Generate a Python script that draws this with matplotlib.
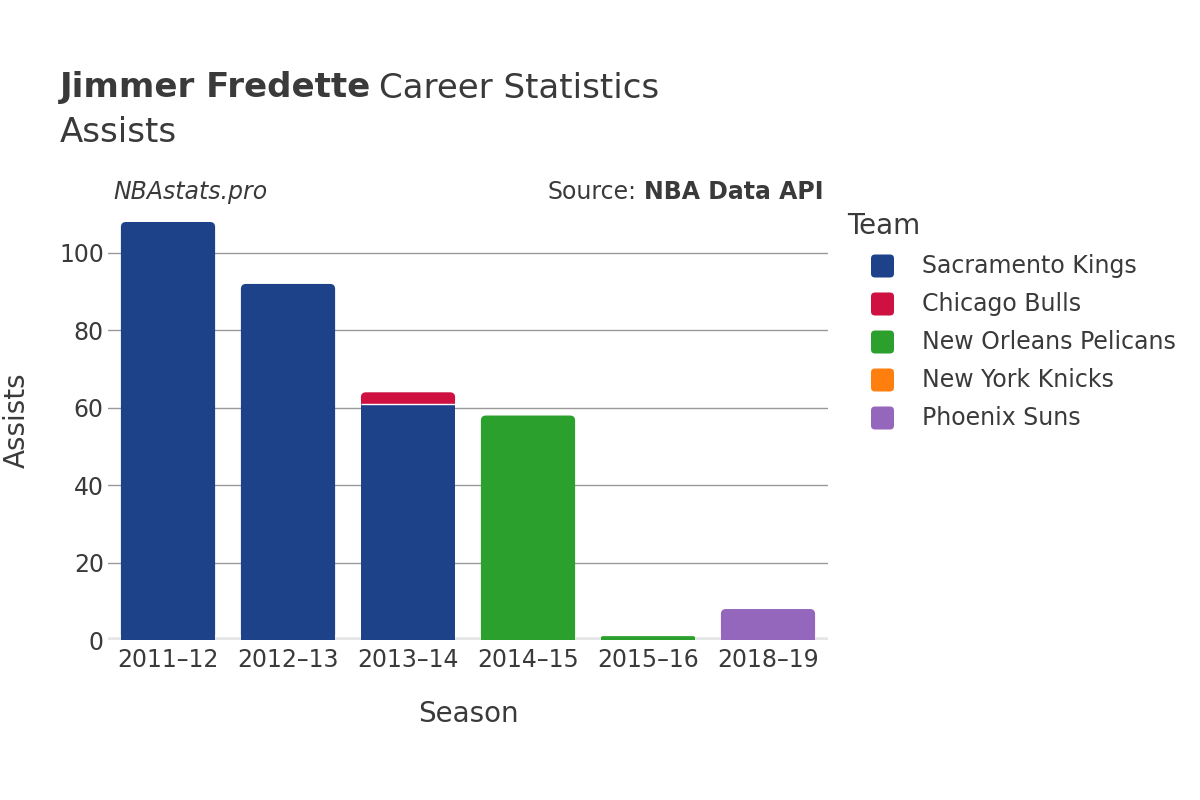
import matplotlib
matplotlib.use("Agg")
import matplotlib.pyplot as plt
from matplotlib.patches import FancyBboxPatch, Rectangle
import numpy as np

seasons = ["2011–12", "2012–13", "2013–14", "2014–15", "2015–16", "2018–19"]
teams = ["Sacramento Kings", "Chicago Bulls", "New Orleans Pelicans", "New York Knicks", "Phoenix Suns"]
colors = ["#1d428a", "#ce1141", "#2ca02c", "#ff7f0e", "#9467bd"]
values = {
    "Sacramento Kings":     [108, 92, 61, 0, 0, 0],
    "Chicago Bulls":        [0, 0, 3, 0, 0, 0],
    "New Orleans Pelicans": [0, 0, 0, 58, 1, 0],
    "New York Knicks":      [0, 0, 0, 0, 0, 0],
    "Phoenix Suns":         [0, 0, 0, 0, 0, 8],
}
yticks = [0, 20, 40, 60, 80, 100]

plt.rcParams['font.family'] = ['DejaVu Sans']
txt = "#3a3a3a"
W, H = 1200, 800
fig = plt.figure(figsize=(12, 8), dpi=100)
ax_l, ax_r, ax_b, ax_t = 108, 828, 640, 210
ax = fig.add_axes([ax_l/W, 1-ax_b/H, (ax_r-ax_l)/W, (ax_b-ax_t)/H])
ymax = 111.1
ax.set_xlim(-0.5, len(seasons)-0.5)
ax.set_ylim(0, ymax)

x = np.arange(len(seasons))
width = 0.785
px_x = (ax_r-ax_l)/len(seasons)      # pixels per x unit
px_y = (ax_b-ax_t)/ymax              # pixels per y unit
rpx = 5.0
totals = [sum(values[t][i] for t in teams) for i in range(len(seasons))]
bottom = np.zeros(len(seasons))
for team, col in zip(teams, colors):
    v = np.array(values[team], dtype=float)
    for i in range(len(seasons)):
        if v[i] <= 0:
            continue
        top = bottom[i] + v[i]
        is_top = abs(top - totals[i]) < 1e-9
        x0 = x[i] - width/2
        if is_top:
            hpx = v[i]*px_y
            r = min(rpx, hpx/2)
            rx = r/px_x
            ry = r/px_y
            if r > 0.8:
                p = FancyBboxPatch((x0, bottom[i]), width, v[i],
                                   boxstyle=f"round,pad=0,rounding_size={rx}",
                                   mutation_aspect=ry/rx if rx > 0 else 1,
                                   facecolor=col, edgecolor="none", zorder=3)
                ax.add_patch(p)
                ax.add_patch(Rectangle((x0, bottom[i]), width, v[i]-ry,
                                       facecolor=col, edgecolor="none", zorder=3))
            else:
                ax.bar(x[i], v[i], width, bottom=bottom[i], color=col, zorder=3)
        else:
            ax.bar(x[i], v[i], width, bottom=bottom[i], color=col, zorder=3)
            ax.plot([x0, x0+width], [top, top], color="white", lw=1, zorder=4,
                    solid_capstyle="butt")
    bottom += v

ax.set_yticks(yticks)
ax.set_xticks(x)
ax.set_xticklabels(seasons)
for s in ax.spines.values():
    s.set_visible(False)
ax.grid(axis="y", color="#999999", lw=1, zorder=0)
ax.axhline(0, color="#e6e6e6", lw=4, zorder=2)
ax.tick_params(axis="y", length=0, labelsize=17, labelcolor=txt, pad=3)
ax.tick_params(axis="x", length=0, labelsize=17, labelcolor=txt, pad=6)
ax.set_xlabel("Season", fontsize=20, color=txt, labelpad=20)
ax.set_ylabel("Assists", fontsize=20, color=txt, va="center")
ax.yaxis.set_label_coords(17/W, 1-420/H, transform=fig.transFigure)

tb = fig.text(60/W, 1-88/H, "Jimmer Fredette", fontsize=24.5, color=txt, va="center", weight="bold")
fig.canvas.draw()
bb = tb.get_window_extent()
fig.text((bb.x1 + 8)/W, 1-88/H, "Career Statistics", fontsize=24.5, color=txt, va="center")
fig.text(60/W, 1-132/H, "Assists", fontsize=24.5, color=txt, va="center")
fig.text(113/W, 1-192/H, "NBAstats.pro", fontsize=17, color=txt, va="center", style="italic")
s1 = fig.text(824/W, 1-192/H, "NBA Data API", fontsize=17, color=txt, va="center", ha="right", weight="bold")
fig.canvas.draw()
bb = s1.get_window_extent()
fig.text((bb.x0 - 8)/W, 1-192/H, "Source:", fontsize=17, color=txt, va="center", ha="right")

# legend
fig.text(847/W, 1-226/H, "Team", fontsize=20, color=txt, va="center")
for k, (team, col) in enumerate(zip(teams, colors)):
    yc = 266 + 38*k
    fig.patches.append(FancyBboxPatch((871/W, 1-(yc+11.5)/H), 23/W, 23/H,
                                      boxstyle=f"round,pad=0,rounding_size={4/W}",
                                      mutation_aspect=W/H,
                                      transform=fig.transFigure,
                                      facecolor=col, edgecolor="none", figure=fig))
    fig.text(922/W, 1-yc/H, team, fontsize=17, color=txt, va="center")

fig.savefig("out.png", dpi=100)
